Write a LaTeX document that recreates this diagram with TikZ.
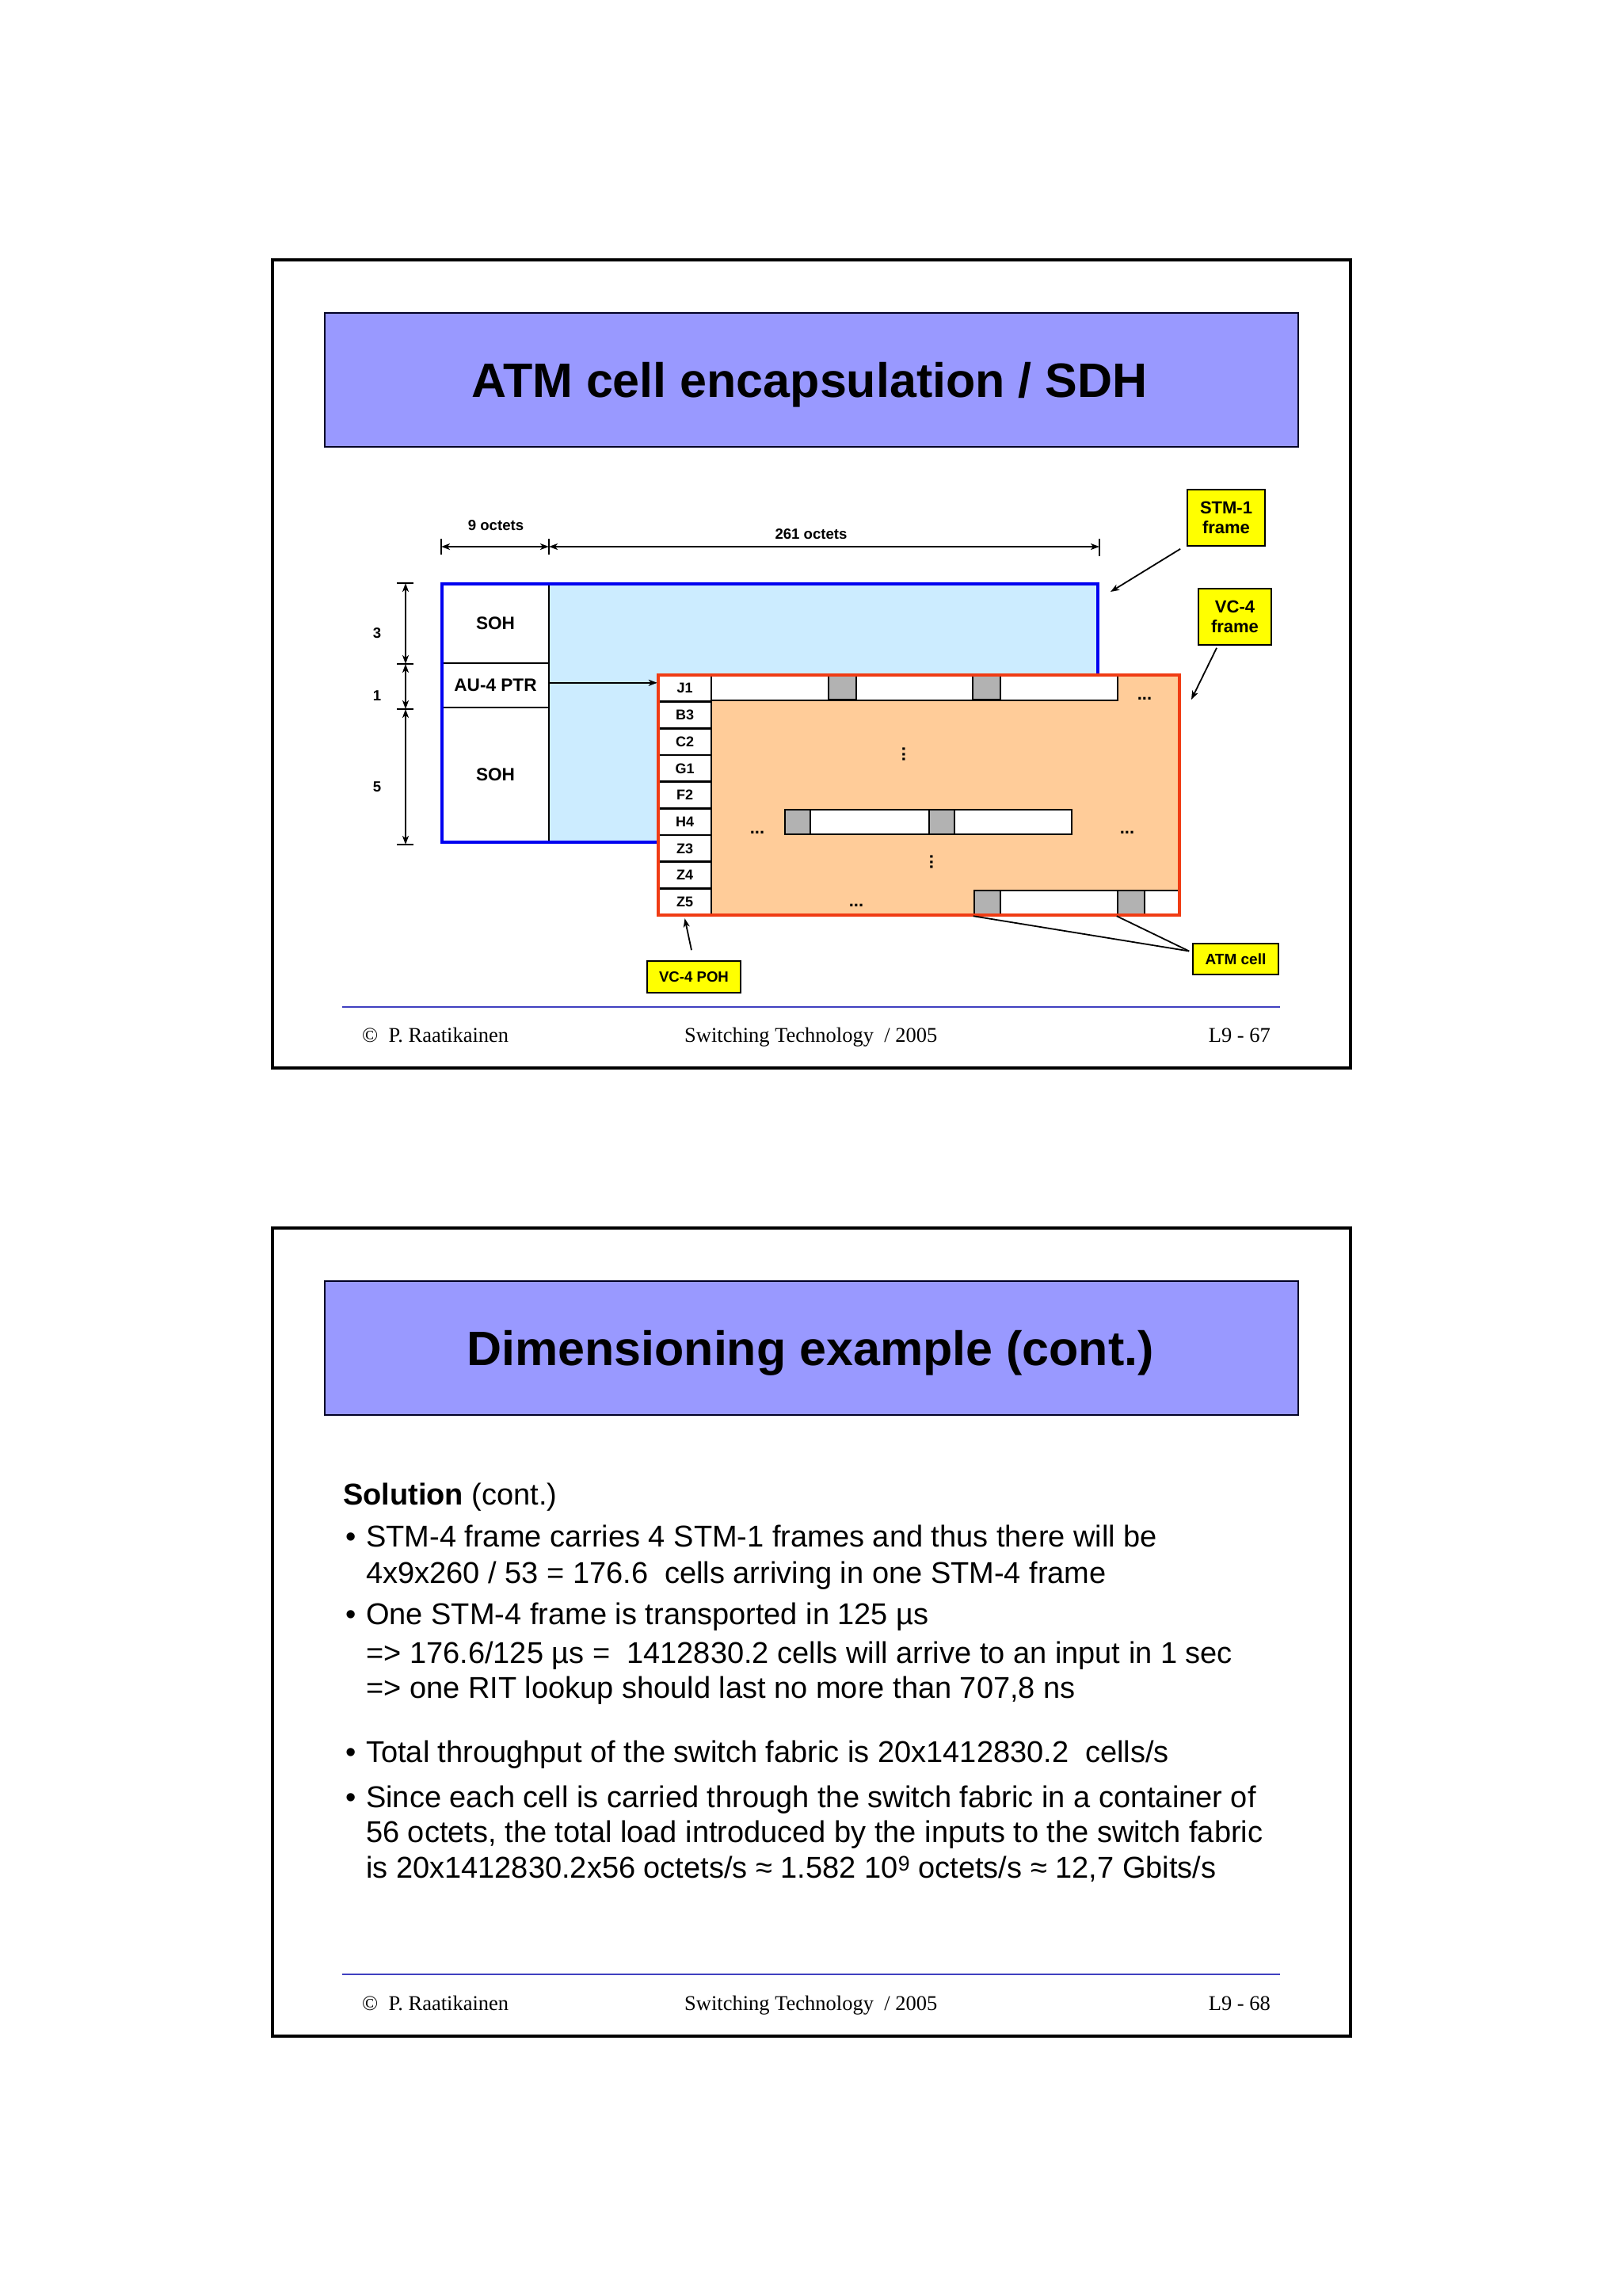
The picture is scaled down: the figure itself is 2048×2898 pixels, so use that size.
\documentclass[tikz,border=0pt]{standalone}
\usepackage{fontspec}
\setmainfont{Liberation Sans}
\newfontfamily\serifft{Liberation Serif}
\usetikzlibrary{arrows.meta}
\definecolor{titlefill}{RGB}{153,153,255}
\definecolor{stmfill}{RGB}{204,236,255}
\definecolor{stmline}{RGB}{0,0,240}
\definecolor{vcfill}{RGB}{255,204,153}
\definecolor{vcline}{RGB}{240,60,20}
\definecolor{cellgrey}{RGB}{178,178,178}
\definecolor{callyellow}{RGB}{255,255,0}
\definecolor{footblue}{RGB}{64,64,192}
\begin{document}
\begin{tikzpicture}[x=1pt,y=-1pt,
  slideframe/.style={draw=black, line width=4pt, inner sep=0, minimum width=1361pt, minimum height=1020pt},
  titlebox/.style={draw=black!85!blue, line width=2pt, fill=titlefill, inner sep=0, minimum width=1229pt, minimum height=169pt},
  titletext/.style={font=\bfseries\fontsize{61}{70}\selectfont, inner sep=0, anchor=base},
  bodytext/.style={font=\fontsize{38}{44}\selectfont, inner sep=0, anchor=base west},
  foottext/.style={font=\serifft\fontsize{26.5}{30}\selectfont, inner sep=0},
  footline/.style={draw=footblue, line width=2.2pt},
  dimlbl/.style={font=\bfseries\fontsize{18.6}{22}\selectfont, inner sep=0},
  sohbox/.style={draw=black, line width=2.5pt, fill=white, inner sep=0, minimum width=135pt, font=\bfseries\fontsize{22.6}{26}\selectfont},
  pohcell/.style={draw=black, line width=2.5pt, fill=white, inner sep=0, minimum width=67pt, minimum height=33.67pt, font=\bfseries\fontsize{18}{20}\selectfont},
  barbox/.style={draw=black, line width=2pt, fill=white, inner sep=0, minimum height=31pt},
  greycell/.style={draw=black, line width=2.5pt, fill=cellgrey, inner sep=0, minimum height=31pt},
  dotstext/.style={font=\bfseries\fontsize{22}{24}\selectfont, inner sep=0, anchor=base},
  vdots/.style={font=\bfseries\fontsize{22}{24}\selectfont, inner sep=0, rotate=90},
  callout/.style={draw=black, line width=1.6pt, fill=callyellow, inner sep=0, align=center, font=\bfseries\fontsize{22}{25}\selectfont},
  arr/.style={-{Stealth[length=11pt,width=8pt,inset=3pt]}, line width=1.8pt},
  dimarr/.style={{Stealth[length=11pt,width=8pt,inset=3pt]}-{Stealth[length=11pt,width=8pt,inset=3pt]}, line width=1.8pt},
  dimtick/.style={line width=1.8pt},
  thinline/.style={line width=1.8pt}
]
\useasboundingbox (0,0) rectangle (2048,2898);
\fill[white] (0,0) rectangle (2048,2898);

% ================= Slide 1 =================
\node[slideframe] (slide1) at (1024.5,838) {};
\node[titlebox] (title1) at (1024.5,479.5) {};
\node[titletext] (title1txt) at (1022,501.5) {ATM cell encapsulation / SDH};

% dimension lines (horizontal)
\coordinate (h0) at (557,690);
\coordinate (h1) at (693,690);
\coordinate (h2) at (1388,690);
\draw[dimtick] ([yshift=10pt]h0) -- ([yshift=-10pt]h0);
\draw[dimtick] ([yshift=10pt]h1) -- ([yshift=-10pt]h1);
\draw[dimtick] ([yshift=10pt]h2) -- ([yshift=-12pt]h2);
\draw[dimarr] (h0) -- (h1);
\draw[dimarr] (h1) -- (h2);
\node[dimlbl] (oct9) at (626,663) {9 octets};
\node[dimlbl] (oct261) at (1024,674) {261 octets};

% dimension lines (vertical)
\coordinate (v0) at (512,736);
\coordinate (v1) at (512,838);
\coordinate (v2) at (512,895);
\coordinate (v3) at (512,1066);
\foreach \c in {v0,v1,v2,v3} \draw[dimtick] ([xshift=-11pt]\c) -- ([xshift=10pt]\c);
\draw[dimarr] (v0) -- (v1);
\draw[dimarr] (v1) -- (v2);
\draw[dimarr] (v2) -- (v3);
\node[dimlbl] (rows3) at (476,799) {3};
\node[dimlbl] (rows1) at (476,878) {1};
\node[dimlbl] (rows5) at (476,993) {5};

% STM-1 frame
\node[fill=stmfill, inner sep=0, minimum width=828pt, minimum height=326pt] (stm) at (972,900) {};
\node[sohbox, minimum height=100pt] (soh1) at (625.5,787) {SOH};
\node[sohbox, minimum height=56pt] (ptr) at (625.5,865) {AU-4 PTR};
\node[sohbox, minimum height=170pt] (soh2) at (625.5,978) {SOH};
\draw[draw=stmline, line width=3.5pt] (stm.north west) rectangle (stm.south east);

% VC-4 frame
\node[fill=vcfill, inner sep=0, minimum width=658pt, minimum height=303pt] (vc4) at (1160,1003.5) {};
\foreach \lab [count=\i] in {J1,B3,C2,G1,F2,H4,Z3,Z4,Z5}
  \node[pohcell] (poh\i) at (864.5,{852+33.667*(\i-0.5)}) {\lab};

% J1 row
\node[barbox, minimum width=513pt] (bar1) at (1154.5,868) {};
\node[greycell, minimum width=35pt] (c11) at (1063.5,868) {};
\node[greycell, minimum width=35pt] (c12) at (1245.5,868) {};
% H4 row
\node[barbox, minimum width=362pt] (bar2) at (1172,1037.5) {};
\node[greycell, minimum width=32pt] (c21) at (1007,1037.5) {};
\node[greycell, minimum width=32pt] (c22) at (1189,1037.5) {};
% Z5 row
\node[barbox, minimum width=259pt] (bar3) at (1359.5,1139.5) {};
\node[greycell, minimum width=33pt] (c31) at (1246.5,1139.5) {};
\node[greycell, minimum width=34pt] (c32) at (1428,1139.5) {};

% dots
\node[dotstext] (dA) at (1445,883) {...};
\node[dotstext] (dB) at (956,1052) {...};
\node[dotstext] (dC) at (1423,1052) {...};
\node[dotstext] (dD) at (1081,1144) {...};
\node[vdots] (dE) at (1141,952) {...};
\node[vdots] (dF) at (1176,1088) {...};

\draw[draw=vcline, line width=3.5pt] (vc4.north west) rectangle (vc4.south east);

% AU-4 PTR pointer
\coordinate (ptrtip) at ([yshift=7pt]poh1.west);
\draw[arr] (ptr.east |- ptrtip) -- (ptrtip);

% callouts
\node[callout, minimum width=98pt, minimum height=71pt] (stmlab) at (1548,653.5) {STM-1\\frame};
\node[callout, minimum width=92pt, minimum height=71pt] (vclab) at (1559,778.5) {VC-4\\frame};
\node[callout, minimum width=118pt, minimum height=40pt, font=\bfseries\fontsize{18.6}{22}\selectfont] (pohlab) at (876,1233) {VC-4 POH};
\node[callout, minimum width=108pt, minimum height=39pt, font=\bfseries\fontsize{19}{22}\selectfont] (atmlab) at (1560,1210.5) {ATM cell};

\coordinate (stmtip) at (1402,747);
\draw[arr] (stmlab.south west) ++(-8,3) -- (stmtip);
\coordinate (vctip) at (1504,883);
\draw[arr] (vclab.south) ++(-23,3) -- (vctip);
\draw[arr] (pohlab.north) ++(-3,-13) -- ([yshift=-3pt]poh9.south);
\coordinate (atmpt) at ([shift={(-4pt,10pt)}]atmlab.west);
\draw[thinline] (c31.south west) -- (atmpt);
\draw[thinline] (c32.south west) -- (atmpt);

% footer slide 1
\coordinate (f1a) at (432,1271);
\coordinate (f1b) at (1616,1271);
\draw[footline] (f1a) -- (f1b);
\node[foottext, anchor=base west] (f1l) at (457,1315) {©\ \ P. Raatikainen};
\node[foottext, anchor=base west] (f1m) at (864,1315) {Switching Technology\ \ / 2005};
\node[foottext, anchor=base east] (f1r) at (1604,1315) {L9 - 67};

% ================= Slide 2 =================
\node[slideframe] (slide2) at (1024.5,2060) {};
\node[titlebox] (title2) at (1024.5,1701.5) {};
\node[titletext] (title2txt) at (1023,1723.3) {Dimensioning example (cont.)};

\node[bodytext] (sol) at (433,1899) {\textbf{Solution} (cont.)};
\node[bodytext] (b1) at (436,1952.5) {•};
\node[bodytext] (l1) at (462,1952.5) {STM-4 frame carries 4 STM-1 frames and thus there will be};
\node[bodytext] (l2) at (462,1998) {4x9x260 / 53 = 176.6\ \ cells arriving in one STM-4 frame};
\node[bodytext] (b2) at (436,2050.7) {•};
\node[bodytext] (l3) at (462,2050.7) {One STM-4 frame is transported in 125 µs};
\node[bodytext] (l4) at (462,2099) {=> 176.6/125 µs =\ \ 1412830.2 cells will arrive to an input in 1 sec};
\node[bodytext] (l5) at (462,2143.6) {=> one RIT lookup should last no more than 707,8 ns};
\node[bodytext] (b3) at (436,2224) {•};
\node[bodytext] (l6) at (462,2224) {Total throughput of the switch fabric is 20x1412830.2\ \ cells/s};
\node[bodytext] (b4) at (436,2281) {•};
\node[bodytext] (l7) at (462,2281) {Since each cell is carried through the switch fabric in a container of};
\node[bodytext] (l8) at (462,2325.7) {56 octets, the total load introduced by the inputs to the switch fabric};
\node[bodytext] (l9) at (462,2370) {is 20x1412830.2x56 octets/s ≈ 1.582 10\textsuperscript{9} octets/s ≈ 12,7 Gbits/s};

% footer slide 2
\coordinate (f2a) at (432,2492);
\coordinate (f2b) at (1616,2492);
\draw[footline] (f2a) -- (f2b);
\node[foottext, anchor=base west] (f2l) at (457,2537) {©\ \ P. Raatikainen};
\node[foottext, anchor=base west] (f2m) at (864,2537) {Switching Technology\ \ / 2005};
\node[foottext, anchor=base east] (f2r) at (1604,2537) {L9 - 68};
\end{tikzpicture}
\end{document}
